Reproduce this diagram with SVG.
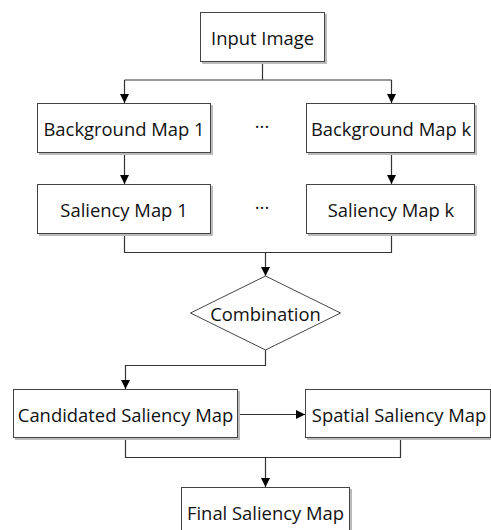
<svg xmlns="http://www.w3.org/2000/svg" width="491" height="530" viewBox="0 0 491 530">
<defs>
<marker id="arr" viewBox="0 0 10 10" refX="10" refY="5" markerWidth="9" markerHeight="10" markerUnits="userSpaceOnUse" orient="auto"><path d="M0,0 L10,5 L0,10 z" fill="#000"/></marker>
</defs>
<style>
.box{fill:#fff;stroke:#444;stroke-width:1}
.sh{fill:#bbb}
.t{font-family:"Open Sans","Liberation Sans",sans-serif;font-size:18.4px;fill:#111;text-anchor:middle;dominant-baseline:central}
.c{fill:none;stroke:#333;stroke-width:1.2}
</style>
<rect width="491" height="530" fill="#fff"/>
<g id="connectors">
<path class="c" d="M262.5,62 V80"/>
<path class="c" d="M124.5,80 H391.5"/>
<path class="c" d="M124.5,80 V103" marker-end="url(#arr)"/>
<path class="c" d="M391.5,80 V103" marker-end="url(#arr)"/>
<path class="c" d="M124.5,153 V184" marker-end="url(#arr)"/>
<path class="c" d="M391.5,153 V184" marker-end="url(#arr)"/>
<path class="c" d="M124.5,234 V252.5 H391.5 V234"/>
<path class="c" d="M265.5,252.5 V276" marker-end="url(#arr)"/>
<path class="c" d="M265.5,350 V365.5 H125.5 V389" marker-end="url(#arr)"/>
<path class="c" d="M238,414.5 H305" marker-end="url(#arr)"/>
<path class="c" d="M125.5,438 V457.5 H400.5 V438"/>
<path class="c" d="M265.5,457.5 V487" marker-end="url(#arr)"/>
</g>
<g id="input">
<rect class="sh" x="202" y="14" width="125" height="50"/>
<rect class="box" x="200.5" y="12.5" width="124" height="49"/>
<text class="t" x="262.5" y="37">Input Image</text>
</g>
<g id="bg1">
<rect class="sh" x="39" y="105" width="174" height="50"/>
<rect class="box" x="37.5" y="103.5" width="173" height="49"/>
<text class="t" x="124" y="128">Background Map 1</text>
</g>
<g id="dots1"><text class="t" x="262" y="125">···</text></g>
<g id="bgk">
<rect class="sh" x="308" y="105" width="169" height="50"/>
<rect class="box" x="306.5" y="103.5" width="168" height="49"/>
<text class="t" x="391" y="128">Background Map k</text>
</g>
<g id="sal1">
<rect class="sh" x="39" y="186" width="174" height="50"/>
<rect class="box" x="37.5" y="184.5" width="173" height="49"/>
<text class="t" x="124" y="209">Saliency Map 1</text>
</g>
<g id="dots2"><text class="t" x="262" y="206">···</text></g>
<g id="salk">
<rect class="sh" x="308" y="186" width="169" height="50"/>
<rect class="box" x="306.5" y="184.5" width="168" height="49"/>
<text class="t" x="391" y="209">Saliency Map k</text>
</g>
<g id="comb">
<polygon class="box" points="265.5,276 340.5,313 265.5,350 190.5,313"/>
<text class="t" x="265.5" y="313">Combination</text>
</g>
<g id="cand">
<rect class="sh" x="15" y="391" width="225" height="49"/>
<rect class="box" x="13.5" y="389.5" width="224" height="48"/>
<text class="t" x="125.5" y="414">Candidated Saliency Map</text>
</g>
<g id="spatial">
<rect class="sh" x="307" y="391" width="186" height="49"/>
<rect class="box" x="305.5" y="389.5" width="185" height="48"/>
<text class="t" x="399" y="414">Spatial Saliency Map</text>
</g>
<g id="final">
<rect class="sh" x="183" y="489" width="169" height="50"/>
<rect class="box" x="181.5" y="487.5" width="168" height="49"/>
<text class="t" x="265.5" y="512">Final Saliency Map</text>
</g>
</svg>
